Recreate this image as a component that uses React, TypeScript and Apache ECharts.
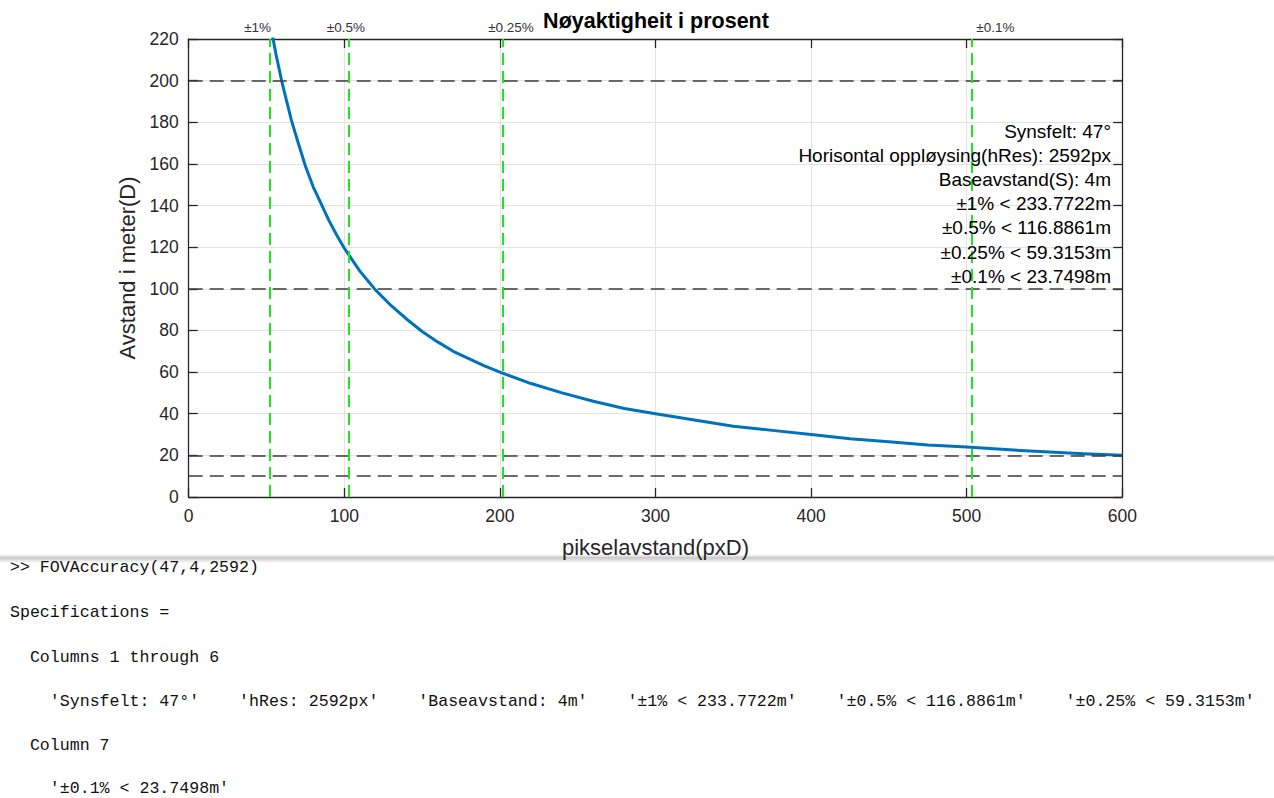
import React, { useEffect, useRef } from 'react';
import * as echarts from 'echarts';

// Measured distance (m) against pixel disparity (px)
const pxDistance = [
  54, 56, 58, 60, 63, 66, 70, 75, 80, 85, 90, 95, 100, 105, 110, 115, 120, 130, 140, 150,
  160, 170, 180, 190, 200, 220, 240, 260, 280, 300, 325, 350, 375, 400, 425, 450, 475, 500,
  525, 550, 575, 600,
];
const distanceM = [
  221, 213, 206, 199, 190, 181, 171, 159, 149, 141, 133, 126, 119.5, 114, 108.5, 104, 99.5, 92, 85.5, 79.5,
  74.5, 70, 66.5, 63, 60, 54.5, 50, 46, 42.5, 40, 37, 34, 32, 30, 28, 26.5, 25, 24,
  22.8, 21.7, 20.8, 20,
];

// Accuracy limits (vertical markers) and their labels
const accuracyPx = [52, 103, 202, 503];
const accuracyLabels = ['±1%', '±0.5%', '±0.25%', '±0.1%'];
const accuracyLabelShift = [-12, -3, 8, 24];

// Horizontal reference distances
const refLevels = [200, 100, 20, 10];

// Text box inside the plot
const infoLines = [
  'Synsfelt: 47°',
  'Horisontal oppløysing(hRes): 2592px',
  'Baseavstand(S): 4m',
  '±1% < 233.7722m',
  '±0.5% < 116.8861m',
  '±0.25% < 59.3153m',
  '±0.1% < 23.7498m',
];

// Command window output below the figure
const consoleLines = [
  '>> FOVAccuracy(47,4,2592)',
  'Specifications =',
  '  Columns 1 through 6',
  "    'Synsfelt: 47°'    'hRes: 2592px'    'Baseavstand: 4m'    '±1% < 233.7722m'    '±0.5% < 116.8861m'    '±0.25% < 59.3153m'",
  '  Column 7',
  "    '±0.1% < 23.7498m'",
];
const consoleY = [567, 612, 657, 701, 745, 788];

const SANS = '"Liberation Sans", Arial, Helvetica, sans-serif';
const MONO = '"Liberation Mono", "Courier New", monospace';
const AXIS = '#262626';

export default function App() {
  const ref = useRef<HTMLDivElement>(null);

  useEffect(() => {
    if (!ref.current) return;
    const chart = echarts.init(ref.current, undefined, { renderer: 'svg' });

    const curve = pxDistance.map((x, i) => [x, distanceM[i]]);

    const axisCommon = {
      axisLine: { show: true, onZero: false, lineStyle: { color: AXIS, width: 1.3 } },
      axisTick: { show: true, inside: true, length: 9, lineStyle: { color: AXIS, width: 1.3 } },
    };

    const graphics: any[] = [
      {
        type: 'text',
        x: 656,
        y: 21,
        style: {
          text: 'Nøyaktigheit i prosent',
          font: `bold 21.5px ${SANS}`,
          fill: '#000',
          align: 'center',
          verticalAlign: 'middle',
        },
      },
      ...infoLines.map((t, i) => ({
        type: 'text',
        x: 1111,
        y: 131 + i * 24.2,
        z: 100,
        style: {
          text: t,
          font: `19px ${SANS}`,
          fill: '#000',
          align: 'right',
          verticalAlign: 'middle',
        },
      })),
      {
        type: 'rect',
        shape: { x: 0, y: 555, width: 1274, height: 8 },
        style: {
          fill: new echarts.graphic.LinearGradient(0, 0, 0, 1, [
            { offset: 0, color: '#f2f2f2' },
            { offset: 0.35, color: '#c9c9c9' },
            { offset: 1, color: '#ffffff' },
          ]),
        },
      },
      ...consoleLines.map((t, i) => ({
        type: 'text',
        x: 10,
        y: consoleY[i],
        style: {
          text: t,
          font: `16.6px ${MONO}`,
          fill: '#111',
          align: 'left',
          verticalAlign: 'middle',
        },
      })),
    ];

    chart.setOption({
      animation: false,
      backgroundColor: '#ffffff',
      grid: { left: 188.7, right: 151.7, top: 39, bottom: 301, containLabel: false },
      xAxis: [
        {
          type: 'value',
          min: 0,
          max: 600,
          interval: 100,
          position: 'bottom',
          ...axisCommon,
          axisLabel: { color: AXIS, fontSize: 17.5, fontFamily: SANS, margin: 10 },
          splitLine: { show: true, lineStyle: { color: '#e3e3e3', width: 1 } },
          name: 'pikselavstand(pxD)',
          nameLocation: 'middle',
          nameGap: 39,
          nameTextStyle: { color: AXIS, fontSize: 22, fontFamily: SANS },
        },
        {
          type: 'value',
          min: 0,
          max: 600,
          interval: 100,
          position: 'top',
          ...axisCommon,
          axisLabel: { show: false },
          splitLine: { show: false },
        },
      ],
      yAxis: [
        {
          type: 'value',
          min: 0,
          max: 220,
          interval: 20,
          position: 'left',
          ...axisCommon,
          axisLabel: { color: AXIS, fontSize: 17.5, fontFamily: SANS, margin: 10 },
          splitLine: { show: true, lineStyle: { color: '#e3e3e3', width: 1 } },
          name: 'Avstand i meter(D)',
          nameLocation: 'middle',
          nameGap: 47,
          nameRotate: 90,
          nameTextStyle: { color: AXIS, fontSize: 22, fontFamily: SANS },
        },
        {
          type: 'value',
          min: 0,
          max: 220,
          interval: 20,
          position: 'right',
          ...axisCommon,
          axisLabel: { show: false },
          splitLine: { show: false },
        },
      ],
      series: [
        {
          type: 'line',
          name: 'ref',
          data: [],
          z: 2,
          markLine: {
            silent: true,
            symbol: 'none',
            label: { show: false },
            lineStyle: { color: '#3c3c3c', width: 1.6, type: [14, 7] },
            data: refLevels.map((v) => ({ yAxis: v })),
          },
        },
        {
          type: 'line',
          name: 'D',
          data: curve,
          smooth: false,
          showSymbol: false,
          symbol: 'none',
          clip: true,
          z: 3,
          lineStyle: { color: '#0072BD', width: 3, join: 'round' },
        },
        {
          type: 'line',
          name: 'accuracy',
          data: [],
          z: 4,
          markLine: {
            silent: true,
            symbol: 'none',
            lineStyle: { color: '#1ee61e', width: 2, type: [12, 6] },
            data: accuracyPx.map((v, i) => ({
              xAxis: v,
              label: {
                show: true,
                position: 'end',
                formatter: accuracyLabels[i],
                color: '#333',
                fontSize: 13.5,
                fontFamily: SANS,
                distance: 5,
                offset: [accuracyLabelShift[i], 0],
              },
            })),
          },
        },
      ],
      graphic: graphics,
    });

    return () => chart.dispose();
  }, []);

  return (
    <div
      ref={ref}
      style={{ position: 'fixed', left: 0, top: 0, width: 1274, height: 798, background: '#fff' }}
    />
  );
}
